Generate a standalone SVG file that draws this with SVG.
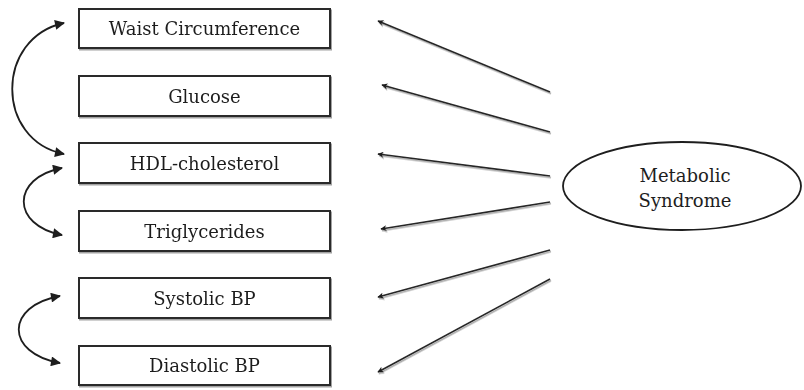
<svg xmlns="http://www.w3.org/2000/svg" width="804" height="390" viewBox="0 0 804 390">
  <defs>
    <style>
      .box { fill: #fff; stroke: #2a2a2a; stroke-width: 2; }
      .lbl { font-family: 'DejaVu Serif', serif; font-size: 18px; fill: #1e1e1e; text-anchor: middle; }
      .link { fill: none; stroke: #262626; stroke-width: 1.6; }
      .cov { fill: none; stroke: #1e1e1e; stroke-width: 1.8; }
    </style>
    <filter id="shade" x="-10%" y="-20%" width="120%" height="150%">
      <feDropShadow dx="1" dy="1.5" stdDeviation="0.6" flood-color="#8a8a8a" flood-opacity="0.8"/>
    </filter>
    <marker id="tip" viewBox="0 0 10 10" refX="9" refY="5" markerWidth="7" markerHeight="6" orient="auto-start-reverse" markerUnits="userSpaceOnUse">
      <path d="M0,0 L10,5 L0,10 L2.5,5 Z" fill="#1e1e1e"/>
    </marker>
    <marker id="head" viewBox="0 0 10 10" refX="9" refY="5" markerWidth="12" markerHeight="10" orient="auto-start-reverse" markerUnits="userSpaceOnUse">
      <path d="M0,0 L10,5 L0,10 Z" fill="#1e1e1e"/>
    </marker>
  </defs>
  <rect width="804" height="390" fill="#fff"/>

  <!-- indicator boxes -->
  <g id="waist" filter="url(#shade)">
    <rect class="box" x="79" y="9" width="251" height="39"/>
    <text class="lbl" x="204.5" y="35">Waist Circumference</text>
  </g>
  <g id="glucose" filter="url(#shade)">
    <rect class="box" x="79" y="76" width="251" height="40"/>
    <text class="lbl" x="204.5" y="103">Glucose</text>
  </g>
  <g id="hdl" filter="url(#shade)">
    <rect class="box" x="79" y="143" width="251" height="40"/>
    <text class="lbl" x="204.5" y="170">HDL-cholesterol</text>
  </g>
  <g id="triglycerides" filter="url(#shade)">
    <rect class="box" x="79" y="211" width="251" height="40"/>
    <text class="lbl" x="204.5" y="238">Triglycerides</text>
  </g>
  <g id="systolic" filter="url(#shade)">
    <rect class="box" x="79" y="278" width="251" height="40"/>
    <text class="lbl" x="204.5" y="305">Systolic BP</text>
  </g>
  <g id="diastolic" filter="url(#shade)">
    <rect class="box" x="79" y="346" width="251" height="39"/>
    <text class="lbl" x="204.5" y="372">Diastolic BP</text>
  </g>

  <!-- latent factor -->
  <g id="metabolic-syndrome">
    <ellipse cx="682" cy="186" rx="119" ry="44" fill="#fff" stroke="#1e1e1e" stroke-width="1.8"/>
    <text class="lbl" x="685" y="182">Metabolic</text>
    <text class="lbl" x="685" y="207">Syndrome</text>
  </g>

  <!-- connectors -->
  <g id="connectors">
    <g filter="url(#shade)">
      <line class="link" x1="550" y1="92" x2="378" y2="21" marker-end="url(#tip)"/>
      <line class="link" x1="550" y1="132" x2="382" y2="85" marker-end="url(#tip)"/>
      <line class="link" x1="550" y1="176" x2="378" y2="154" marker-end="url(#tip)"/>
      <line class="link" x1="550" y1="202" x2="381" y2="229" marker-end="url(#tip)"/>
      <line class="link" x1="550" y1="250" x2="378" y2="297" marker-end="url(#tip)"/>
      <line class="link" x1="550" y1="279" x2="378" y2="372" marker-end="url(#tip)"/>
    </g>
    <!-- residual covariances -->
    <path class="cov" d="M64,23 C-5,38 -5,140 64,154" marker-start="url(#head)" marker-end="url(#head)"/>
    <path class="cov" d="M62,168 C11,178 11,225 62,235" marker-start="url(#head)" marker-end="url(#head)"/>
    <path class="cov" d="M60,296 C5,306 5,353 60,363" marker-start="url(#head)" marker-end="url(#head)"/>
  </g>
</svg>
